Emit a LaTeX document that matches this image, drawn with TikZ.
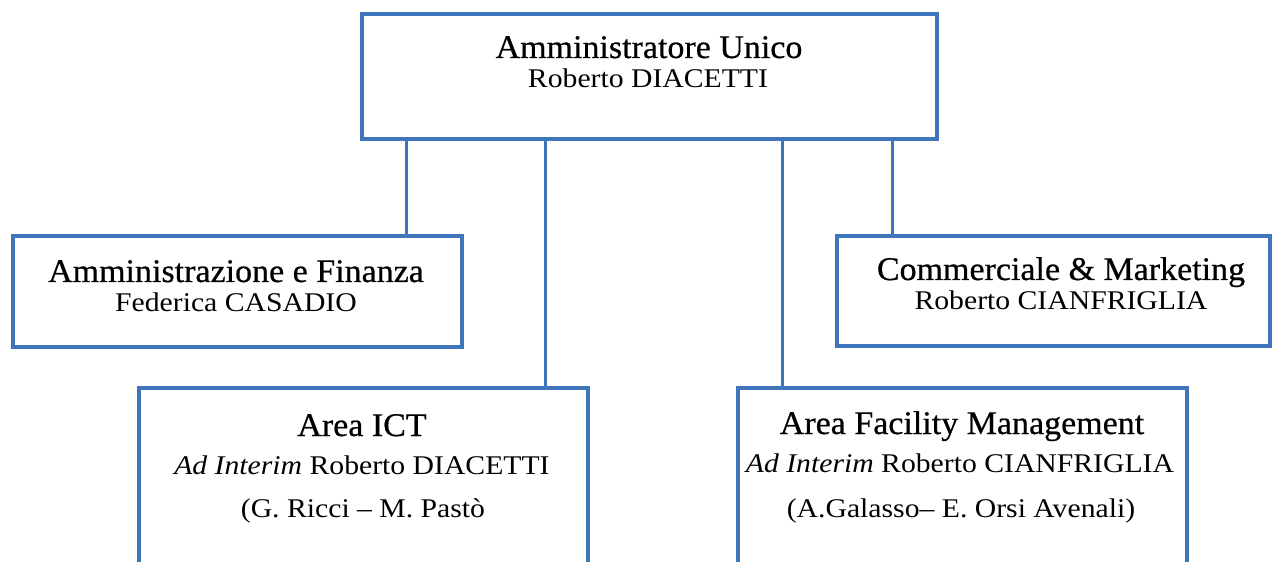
\documentclass[tikz,border=0pt]{standalone}
\usepackage{fontspec}
\setmainfont{Liberation Serif}[FakeStretch=1.1]
\newfontfamily\orgtitlefont{Liberation Serif}[FakeStretch=1.03, FakeBold=0.6]
\definecolor{orgblue}{RGB}{62,117,187}
\tikzset{
  orgbox/.style={draw=orgblue, line width=3.5bp, fill=white, rectangle, inner sep=0pt},
  conn/.style={draw=orgblue, line width=3bp},
  ttl/.style={anchor=base, inner sep=0pt, font=\orgtitlefont\fontsize{33bp}{38bp}\selectfont},
  sub/.style={anchor=base, inner sep=0pt, font=\fontsize{27bp}{32bp}\selectfont},
}
\begin{document}
\begin{tikzpicture}[x=1bp, y=-1bp]
\useasboundingbox[fill=white] (0,0) rectangle (1273,562);
% boxes
\node[orgbox, minimum width=575bp, minimum height=125bp] (top) at (649.5,76.5) {};
\node[orgbox, minimum width=449bp, minimum height=111bp] (amm) at (237.5,291.5) {};
\node[orgbox, minimum width=433bp, minimum height=110bp] (com) at (1053.5,291) {};
\node[orgbox, minimum width=449bp, minimum height=187bp] (ict) at (363.5,481.5) {};
\node[orgbox, minimum width=449bp, minimum height=187bp] (fac) at (962.5,481.5) {};
% connectors
\coordinate (c1) at (406,139);
\coordinate (c2) at (545,139);
\coordinate (c3) at (782,139);
\coordinate (c4) at (892,139);
\draw[conn] (c1) -- (c1 |- amm.north);
\draw[conn] (c2) -- (c2 |- ict.north);
\draw[conn] (c3) -- (c3 |- fac.north);
\draw[conn] (c4) -- (c4 |- com.north);
% texts
\node[ttl] (topt) at (649,58) {Amministratore Unico};
\node[sub] (tops) at (648,88) {Roberto DIACETTI};
\node[ttl] (ammt) at (236,282) {Amministrazione e Finanza};
\node[sub] (amms) at (236,312) {Federica CASADIO};
\node[ttl] (comt) at (1061,280) {Commerciale \& Marketing};
\node[sub] (coms) at (1061,310) {Roberto CIANFRIGLIA};
\node[ttl] (ictt) at (362,436) {Area ICT};
\node[sub] (icts) at (362,474) {\textit{Ad Interim} Roberto DIACETTI};
\node[sub] (ictp) at (363,517) {(G. Ricci -- M. Pastò};
\node[ttl] (fact) at (962,434) {Area Facility Management};
\node[sub] (facs) at (960,472) {\textit{Ad Interim} Roberto CIANFRIGLIA};
\node[sub] (facp) at (961,517) {(A.Galasso-- E. Orsi Avenali)};
\end{tikzpicture}
\end{document}
